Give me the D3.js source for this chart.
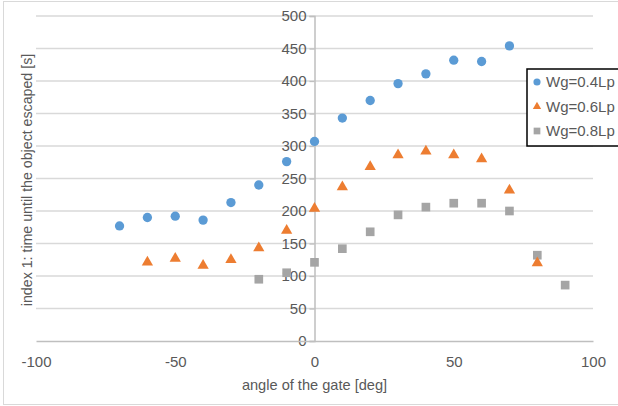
<!DOCTYPE html>
<html>
<head>
<meta charset="utf-8">
<script src="https://cdn.jsdelivr.net/npm/d3@7"></script>
<style>
    body { margin: 0; background: #fff; }
    svg text { font-family: "Liberation Sans", Arial, sans-serif; fill: #595959; }
</style>
</head>
<body>
<script>
// angle of the gate [deg]
var angles04 = [-70, -60, -50, -40, -30, -20, -10, 0, 10, 20, 30, 40, 50, 60, 70];
var values04 = [177, 190, 192, 186, 213, 240, 276, 307, 343, 370, 396, 411, 432, 430, 454];

var angles06 = [-60, -50, -40, -30, -20, -10, 0, 10, 20, 30, 40, 50, 60, 70, 80];
var values06 = [121, 127, 116, 125, 143, 170, 204, 237, 268, 286, 292, 286, 280, 232, 120];

var angles08 = [-20, -10, 0, 10, 20, 30, 40, 50, 60, 70, 80, 90];
var values08 = [95, 105, 121, 142, 168, 194, 206, 212, 212, 200, 132, 86];

var seriesNames = ["Wg=0.4Lp", "Wg=0.6Lp", "Wg=0.8Lp"];
var xTicks = [-100, -50, 0, 50, 100];
var yTicks = [0, 50, 100, 150, 200, 250, 300, 350, 400, 450, 500];

window.onload = function () {
    var svg_width = 618;
    var svg_height = 406;
    var colors = ["#5B9BD5", "#ED7D31", "#A5A5A5"];

    var svg = d3.select("body")
        .append("svg")
        .attr("width", svg_width)
        .attr("height", svg_height);

    // chart border
    svg.append("rect")
        .attr("x", 3.5).attr("y", 1.5)
        .attr("width", 640).attr("height", 403)
        .attr("fill", "#fff")
        .attr("stroke", "#D9D9D9");

    var x = d3.scaleLinear().domain([-100, 100]).range([36, 593]);
    var y = d3.scaleLinear().domain([0, 500]).range([341, 16]);
    // plain hyphen like the original, not the unicode minus
    var plain = function (d) { return String(d); };

    // horizontal grid
    svg.append("g").selectAll("line")
        .data(yTicks.filter(function (d) { return d > 0; }))
        .enter()
        .append("line")
        .attr("x1", x(-100)).attr("x2", x(100))
        .attr("y1", function (d) { return y(d); })
        .attr("y2", function (d) { return y(d); })
        .attr("stroke", "#D9D9D9")
        .attr("stroke-width", 1.3);

    // y axis at x = 0
    var yAxis = d3.axisLeft(y).tickValues(yTicks).tickFormat(plain).tickSize(5).tickPadding(3);
    var gy = svg.append("g")
        .attr("transform", "translate(" + x(0) + ",0)")
        .call(yAxis);
    gy.select(".domain").attr("stroke", "#BFBFBF").attr("stroke-width", 1.5);
    gy.selectAll(".tick line").attr("stroke", "#BFBFBF").attr("stroke-width", 1.3);
    gy.selectAll(".tick text")
        .attr("font-size", 15)
        .style("font-family", "'Liberation Sans', Arial, sans-serif")
        .attr("fill", "#595959");

    // x axis at y = 0
    var xAxis = d3.axisBottom(x).tickValues(xTicks).tickFormat(plain).tickSize(0).tickPadding(15);
    var gx = svg.append("g")
        .attr("transform", "translate(0," + y(0) + ")")
        .call(xAxis);
    gx.select(".domain").attr("stroke", "#BFBFBF").attr("stroke-width", 1.5);
    gx.selectAll(".tick text")
        .attr("font-size", 15)
        .style("font-family", "'Liberation Sans', Arial, sans-serif")
        .attr("fill", "#595959");

    // axis titles
    svg.append("text")
        .attr("x", x(0))
        .attr("y", 390)
        .attr("text-anchor", "middle")
        .attr("font-size", 14.6)
        .text("angle of the gate [deg]");

    svg.append("text")
        .attr("transform", "translate(32,180) rotate(-90)")
        .attr("text-anchor", "middle")
        .attr("font-size", 14.2)
        .text("index 1: time until the object escaped [s]");

    var series = [
        { xs: angles04, ys: values04, shape: d3.symbolCircle, size: 68 },
        { xs: angles06, ys: values06, shape: d3.symbolTriangle, size: 55 },
        { xs: angles08, ys: values08, shape: d3.symbolSquare, size: 75 }
    ];

    // points: draw gray first so that orange sits on top of it where they overlap
    [2, 0, 1].forEach(function (k) {
        var s = series[k];
        svg.append("g").selectAll("path")
            .data(s.xs.map(function (a, i) { return [a, s.ys[i]]; }))
            .enter()
            .append("path")
            .attr("d", d3.symbol().type(s.shape).size(s.size))
            .attr("transform", function (d) {
                return "translate(" + x(d[0]) + "," + y(d[1]) + ")";
            })
            .attr("fill", colors[k]);
    });

    // legend
    var legend = svg.append("g");
    legend.append("rect")
        .attr("x", 527).attr("y", 69)
        .attr("width", 110).attr("height", 77)
        .attr("fill", "#fff")
        .attr("stroke", "#000")
        .attr("stroke-width", 1.5);
    var legendSizes = [40, 30, 45];
    seriesNames.forEach(function (name, i) {
        var cy = 82 + i * 24.5;
        legend.append("path")
            .attr("d", d3.symbol().type(series[i].shape).size(legendSizes[i]))
            .attr("transform", "translate(537," + cy + ")")
            .attr("fill", colors[i]);
        legend.append("text")
            .attr("x", 546)
            .attr("y", cy + 5)
            .attr("font-size", 15)
            .text(name);
    });
};
</script>
</body>
</html>
